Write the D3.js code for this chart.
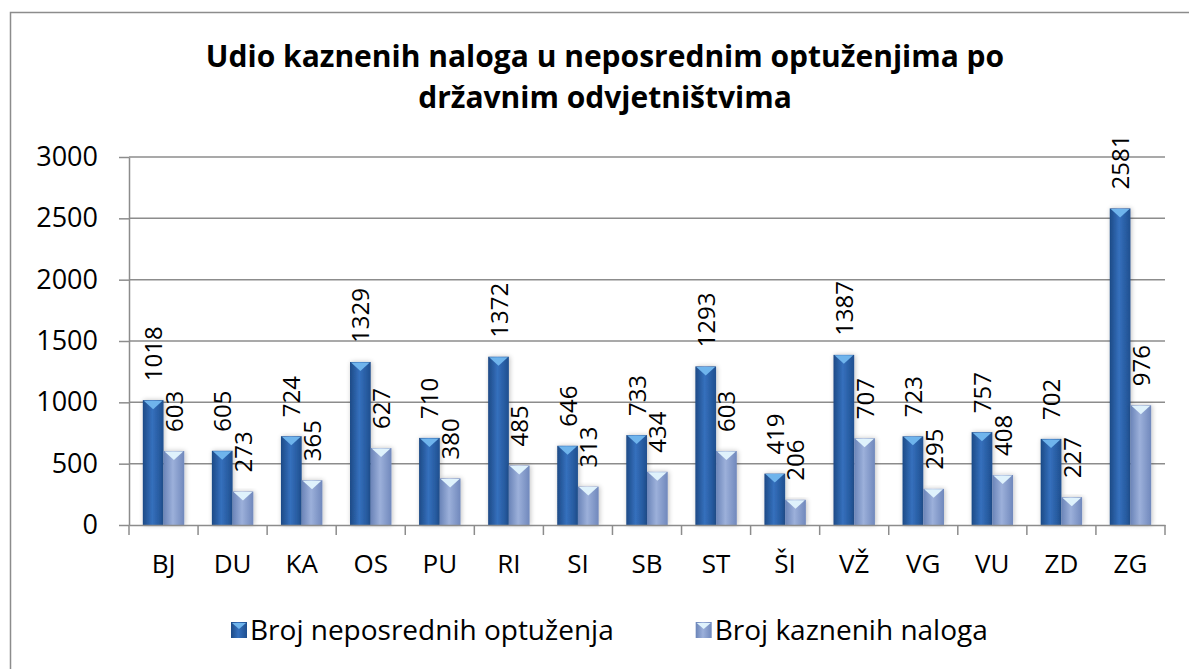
<!DOCTYPE html>
<html>
<head>
<meta charset="utf-8">
<script src="https://cdn.jsdelivr.net/npm/d3@7"></script>
<style>
  body { margin: 0; background: #fff; }
  text { font-family: "Open Sans", "Liberation Sans", sans-serif; }
</style>
</head>
<body>
<script>
let width = 1189;
let height = 669;

let categories = ['BJ', 'DU', 'KA', 'OS', 'PU', 'RI', 'SI', 'SB', 'ST', 'ŠI', 'VŽ', 'VG', 'VU', 'ZD', 'ZG'];
let optuzenja = [1018, 605, 724, 1329, 710, 1372, 646, 733, 1293, 419, 1387, 723, 757, 702, 2581];
let nalozi = [603, 273, 365, 627, 380, 485, 313, 434, 603, 206, 707, 295, 408, 227, 976];
let seriesNames = ['Broj neposrednih optuženja', 'Broj kaznenih naloga'];
let yTicks = [0, 500, 1000, 1500, 2000, 2500, 3000];

let svg = d3.select('body').append('svg')
  .attr('width', width)
  .attr('height', height);

let defs = svg.append('defs');

function gradient(id, stops) {
  let g = defs.append('linearGradient').attr('id', id)
    .attr('x1', 0).attr('x2', 1).attr('y1', 0).attr('y2', 0);
  stops.forEach(([o, c]) => g.append('stop').attr('offset', o).attr('stop-color', c));
}
gradient('g0', [[0, '#1d4a86'], [0.45, '#3570bd'], [1, '#1f4f8f']]);
gradient('g1', [[0, '#6a84b8'], [0.45, '#9cb0da'], [1, '#7088bc']]);

let shadow = defs.append('filter').attr('id', 'sh')
  .attr('x', -0.3).attr('y', -0.1).attr('width', 1.6).attr('height', 1.2);
shadow.append('feGaussianBlur').attr('in', 'SourceAlpha').attr('stdDeviation', 2.5);
shadow.append('feOffset').attr('dx', 1).attr('dy', 0).attr('result', 'b');
shadow.append('feComponentTransfer').append('feFuncA').attr('type', 'linear').attr('slope', 0.25);
let merge = shadow.append('feMerge');
merge.append('feMergeNode');
merge.append('feMergeNode').attr('in', 'SourceGraphic');

// outer chart border
svg.append('rect')
  .attr('x', 10.5).attr('y', 12.5)
  .attr('width', 1190).attr('height', 670)
  .attr('fill', 'none').attr('stroke', '#8c8c8c').attr('stroke-width', 1.5);

// title
svg.append('text')
  .attr('text-anchor', 'middle').attr('font-weight', 'bold').attr('font-size', 30)
  .selectAll('tspan')
  .data(['Udio kaznenih naloga u neposrednim optuženjima po', 'državnim odvjetništvima'])
  .join('tspan')
  .attr('x', 605)
  .attr('y', (d, i) => 67 + i * 41)
  .text((d) => d);

let margin = { left: 129, right: 1165, top: 157, bottom: 525 };

let x = d3.scaleBand()
  .domain(categories)
  .range([margin.left, margin.right])
  .paddingInner(0.4)
  .paddingOuter(0.2);

let xSub = d3.scaleBand()
  .domain([0, 1])
  .range([0, x.bandwidth()]);

let y = d3.scaleLinear()
  .domain([0, 3000])
  .range([margin.bottom, margin.top]);

// gridlines
svg.append('g')
  .selectAll('line')
  .data(yTicks.filter((d) => d > 0))
  .join('line')
  .attr('x1', margin.left).attr('x2', margin.right)
  .attr('y1', (d) => y(d)).attr('y2', (d) => y(d))
  .attr('stroke', '#8c8c8c').attr('stroke-width', 1.5);

// y axis
let yAxis = svg.append('g')
  .attr('transform', `translate(${margin.left},0)`)
  .call(d3.axisLeft(y).tickValues(yTicks).tickFormat(d3.format('d'))
    .tickSize(10).tickSizeOuter(0).tickPadding(21));
yAxis.select('.domain').attr('stroke', '#8c8c8c').attr('stroke-width', 1.5);
yAxis.selectAll('.tick line').attr('stroke', '#8c8c8c').attr('stroke-width', 1.5);
yAxis.selectAll('.tick text').attr('font-size', 27).attr('fill', '#000');

let step = (margin.right - margin.left) / categories.length;

let data = categories.map((c, i) => ({ cat: c, vals: [optuzenja[i], nalozi[i]] }));

let groups = svg.append('g')
  .selectAll('g')
  .data(data)
  .join('g')
  .attr('transform', (d) => `translate(${x(d.cat)},0)`);

let bars = groups.selectAll('g')
  .data((d) => d.vals.map((v, s) => ({ v, s })))
  .join('g');

bars.append('rect')
  .attr('x', (d) => xSub(d.s))
  .attr('y', (d) => y(d.v))
  .attr('width', xSub.bandwidth())
  .attr('height', (d) => y(0) - y(d.v))
  .attr('fill', (d) => `url(#g${d.s})`)
  .attr('filter', 'url(#sh)');

// bevel triangle on top
bars.append('path')
  .attr('d', (d) => {
    let x0 = xSub(d.s), w = xSub.bandwidth(), t = y(d.v);
    return `M${x0 + 1},${t + 0.5} L${x0 + w - 1},${t + 0.5} L${x0 + w / 2},${t + 9} Z`;
  })
  .attr('fill', (d) => d.s === 0 ? '#6fb4ec' : '#dff2fc');

bars.append('text')
  .attr('transform', (d) => `translate(${xSub(d.s) + xSub.bandwidth() / 2 + 9},${y(d.v) - 19}) rotate(-90)`)
  .attr('font-size', 24)
  .attr('fill', '#000')
  .text((d) => d.v);

// x axis
let xAxis = svg.append('g')
  .attr('transform', `translate(0,${margin.bottom})`)
  .call(d3.axisBottom(x).tickSize(0).tickPadding(30));
xAxis.select('.domain').attr('stroke', '#8c8c8c').attr('stroke-width', 1.5);
xAxis.selectAll('.tick text').attr('font-size', 26).attr('fill', '#000');

svg.append('g')
  .selectAll('line')
  .data(d3.range(categories.length + 1))
  .join('line')
  .attr('x1', (i) => margin.left + i * step).attr('x2', (i) => margin.left + i * step)
  .attr('y1', margin.bottom).attr('y2', margin.bottom + 10)
  .attr('stroke', '#8c8c8c').attr('stroke-width', 1.5);

// legend
let legend = svg.append('g')
  .selectAll('g')
  .data(seriesNames)
  .join('g');

legend.append('rect')
  .attr('y', 622)
  .attr('width', 16).attr('height', 16)
  .attr('fill', (d, i) => `url(#g${i})`);
legend.append('path')
  .attr('d', 'M1,623 L15,623 L8,629 Z')
  .attr('fill', (d, i) => i === 0 ? '#6fb4ec' : '#dff2fc');
legend.append('text')
  .attr('x', 19).attr('y', 640)
  .attr('font-size', 28)
  .attr('fill', '#000')
  .text((d) => d);

let lx = 231;
legend.each(function() {
  let g = d3.select(this);
  g.attr('transform', `translate(${lx},0)`);
  lx += 19 + g.select('text').node().getComputedTextLength() + 82;
});
</script>
</body>
</html>
